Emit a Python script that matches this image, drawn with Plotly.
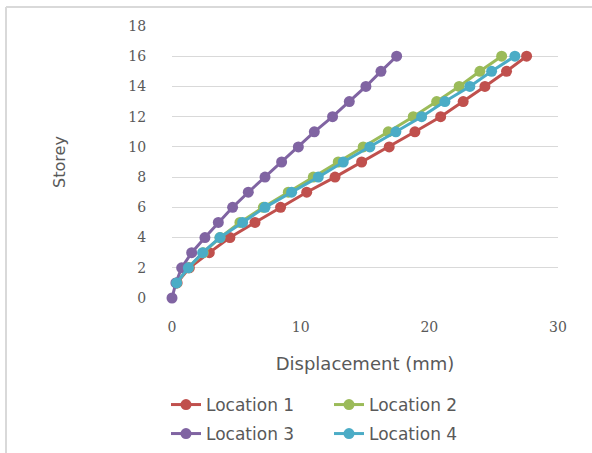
import plotly.graph_objects as go

# Storey levels and lateral displacement (mm) at each location
storey = [0, 1, 2, 3, 4, 5, 6, 7, 8, 9, 10, 11, 12, 13, 14, 15, 16]

location_1 = [None, 0.40, 1.35, 2.90, 4.50, 6.45, 8.44, 10.47, 12.67, 14.74,
              16.88, 18.88, 20.88, 22.63, 24.32, 26.00, 27.56]
location_2 = [None, 0.36, 1.27, 2.43, 3.73, 5.28, 7.10, 9.04, 10.98, 12.92,
              14.86, 16.81, 18.75, 20.57, 22.32, 23.93, 25.62]
location_3 = [0, 0.30, 0.75, 1.53, 2.56, 3.60, 4.71, 5.93, 7.23, 8.52,
              9.82, 11.06, 12.48, 13.78, 15.07, 16.24, 17.46]
location_4 = [None, 0.36, 1.27, 2.38, 3.73, 5.49, 7.23, 9.30, 11.37, 13.31,
              15.38, 17.40, 19.40, 21.21, 23.15, 24.84, 26.65]

series_names = ["Location 1", "Location 2", "Location 3", "Location 4"]
series_values = [location_1, location_2, location_3, location_4]
series_colors = ["#C0504D", "#9BBB59", "#8064A2", "#4BACC6"]
# legend row for each series (two entries per row)
series_legend = ["legend", "legend", "legend2", "legend2"]

x_ticks = [0, 10, 20, 30]
y_ticks = [0, 2, 4, 6, 8, 10, 12, 14, 16, 18]

text_grey = "#595959"
grid_grey = "#D9D9D9"

fig = go.Figure()
for name, vals, col, lg in zip(series_names, series_values, series_colors, series_legend):
    fig.add_trace(go.Scatter(
        x=vals, y=storey, name=name, mode="lines+markers",
        line=dict(color=col, width=3),
        marker=dict(color=col, size=11),
        legend=lg, cliponaxis=False,
    ))

W, H = 592, 453
left, right, top, bottom = 172, 34, 26, 155
pw = W - left - right
ph = H - top - bottom


def px_x(p):
    return (p - left) / pw


def px_y(p):
    return (H - bottom - p) / ph


def legend_row(center_y):
    return dict(
        orientation="h", xref="paper", yref="paper",
        x=px_x(166), xanchor="left",
        y=px_y(center_y), yanchor="middle",
        entrywidth=118, entrywidthmode="pixels",
        font=dict(family="DejaVu Sans", size=17, color=text_grey),
        bgcolor="rgba(0,0,0,0)",
    )


fig.update_layout(
    width=W, height=H,
    margin=dict(l=left, r=right, t=top, b=bottom, autoexpand=False),
    paper_bgcolor="white", plot_bgcolor="white",
    font=dict(family="DejaVu Sans", color=text_grey),
    showlegend=True,
    legend=legend_row(405),
    legend2=legend_row(434),
    xaxis=dict(
        range=[0, 30], tickvals=x_ticks, showgrid=False, zeroline=False,
        showline=False, ticks="outside", ticklen=16, tickcolor="rgba(0,0,0,0)",
        tickfont=dict(family="DejaVu Serif", size=14, color=text_grey),
        title=dict(text="Displacement (mm)", standoff=23,
                   font=dict(family="DejaVu Sans", size=18, color=text_grey)),
    ),
    yaxis=dict(
        range=[0, 18], tickvals=y_ticks, showgrid=True, gridcolor=grid_grey,
        gridwidth=1, zeroline=False, showline=False,
        ticks="outside", ticklen=22, tickcolor="rgba(0,0,0,0)",
        tickfont=dict(family="DejaVu Serif", size=14, color=text_grey),
        title=dict(text="Storey", standoff=58,
                   font=dict(family="DejaVu Sans", size=16, color=text_grey)),
    ),
)

# Light frame around the chart area (top and left edges)
frame = dict(color="#D9D9D9", width=2)
fig.add_shape(type="line", xref="paper", yref="paper",
              x0=px_x(6), x1=px_x(600), y0=px_y(7), y1=px_y(7), line=frame)
fig.add_shape(type="line", xref="paper", yref="paper",
              x0=px_x(6), x1=px_x(6), y0=px_y(7), y1=px_y(460), line=frame)

fig.write_html("out.html")
